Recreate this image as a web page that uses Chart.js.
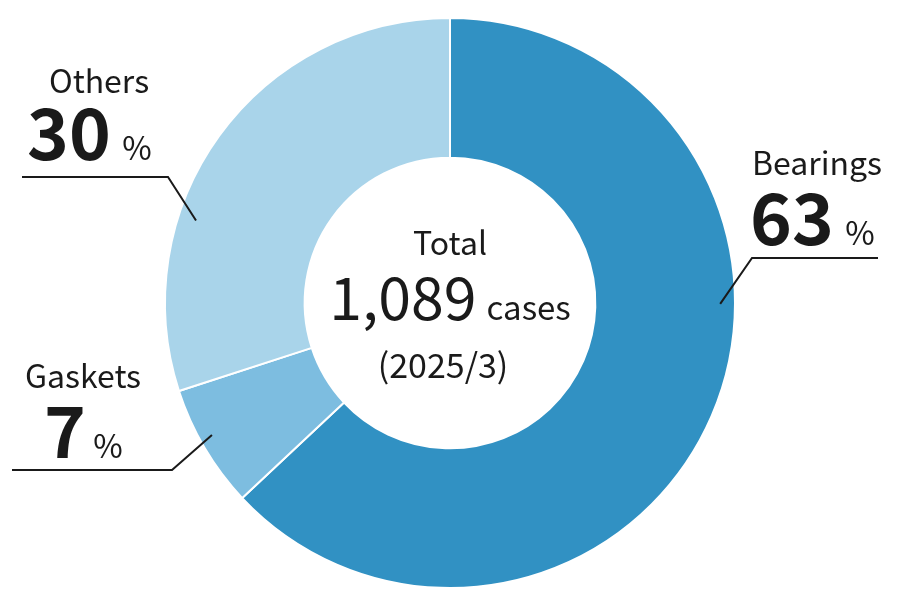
<!DOCTYPE html>
<html>
<head>
<meta charset="utf-8">
<script src="https://cdn.jsdelivr.net/npm/chart.js@4"></script>
<style>
  html, body { margin: 0; padding: 0; background: #ffffff; }
  #wrap { width: 900px; height: 600px; position: relative; }
</style>
</head>
<body>
<div id="wrap"><canvas id="c" width="900" height="600"></canvas></div>
<script>
const categories = ["Bearings", "Gaskets", "Others"];
const shares = [63, 7, 30];
const colors = ["#3191c3", "#7dbde0", "#a9d4ea"];
const totalLabel = "Total";
const totalValue = "1,089";
const totalUnit = "cases";
const totalDate = "(2025/3)";

const FONT = '"Noto Sans CJK JP", "Noto Sans", sans-serif';

const labelLayout = [
  { nameX: 817, nameY: 175, numX: 792, numY: 245, pctX: 860, lineY: 258, lineX0: 752, lineX1: 878, angle: 90.2, rFrac: 0.948 },
  { nameX: 83,  nameY: 388, numX: 65,  numY: 458, pctX: 108, lineY: 470, lineX0: 172, lineX1: 12,  angle: 241, rFrac: 0.955 },
  { nameX: 99,  nameY: 93,  numX: 69,  numY: 160, pctX: 137, lineY: 177, lineX0: 168, lineX1: 22,  angle: 288, rFrac: 0.937 }
];

const labelPlugin = {
  id: 'labels',
  afterDraw(chart) {
    const ctx = chart.ctx;
    const arc = chart.getDatasetMeta(0).data[0];
    const cx = arc.x, cy = arc.y, R = arc.outerRadius;
    ctx.save();
    ctx.fillStyle = '#1a1a1a';
    ctx.strokeStyle = '#1a1a1a';
    ctx.textBaseline = 'alphabetic';

    // center text
    ctx.textAlign = 'center';
    ctx.font = '400 32px ' + FONT;
    ctx.fillText(totalLabel, cx, 255);
    ctx.font = '400 59px ' + FONT;
    const wNum = ctx.measureText(totalValue).width;
    ctx.font = '400 33px ' + FONT;
    const wUnit = ctx.measureText(totalUnit).width;
    const gap = 10;
    const start = cx - (wNum + gap + wUnit) / 2;
    ctx.textAlign = 'left';
    ctx.font = '400 59px ' + FONT;
    ctx.fillText(totalValue, start, 320);
    ctx.font = '400 33px ' + FONT;
    ctx.fillText(totalUnit, start + wNum + gap, 320);
    ctx.textAlign = 'center';
    ctx.font = '400 34px ' + FONT;
    ctx.fillText(totalDate, cx - 7, 378);

    // outer labels
    labelLayout.forEach((L, i) => {
      ctx.textAlign = 'center';
      ctx.font = '400 32px ' + FONT;
      ctx.fillText(categories[i], L.nameX, L.nameY);
      ctx.font = 'bold 71px ' + FONT;
      ctx.fillText(String(shares[i]), L.numX, L.numY);
      ctx.font = '400 32px ' + FONT;
      ctx.fillText('%', L.pctX, L.numY);

      const a = (L.angle - 90) * Math.PI / 180;
      const ex = cx + Math.cos(a) * R * L.rFrac;
      const ey = cy + Math.sin(a) * R * L.rFrac;
      ctx.lineWidth = 2;
      ctx.beginPath();
      ctx.moveTo(L.lineX1, L.lineY);
      ctx.lineTo(L.lineX0, L.lineY);
      ctx.lineTo(ex, ey);
      ctx.stroke();
    });
    ctx.restore();
  }
};

new Chart(document.getElementById('c'), {
  type: 'doughnut',
  data: {
    labels: categories,
    datasets: [{
      data: shares,
      backgroundColor: colors,
      borderColor: '#ffffff',
      borderWidth: 2,
      hoverOffset: 0
    }]
  },
  options: {
    responsive: false,
    animation: false,
    cutout: '51%',
    rotation: 0,
    layout: { padding: { top: 17, bottom: 11, left: 0, right: 0 } },
    plugins: {
      legend: { display: false },
      tooltip: { enabled: false }
    }
  },
  plugins: [labelPlugin]
});
</script>
</body>
</html>
